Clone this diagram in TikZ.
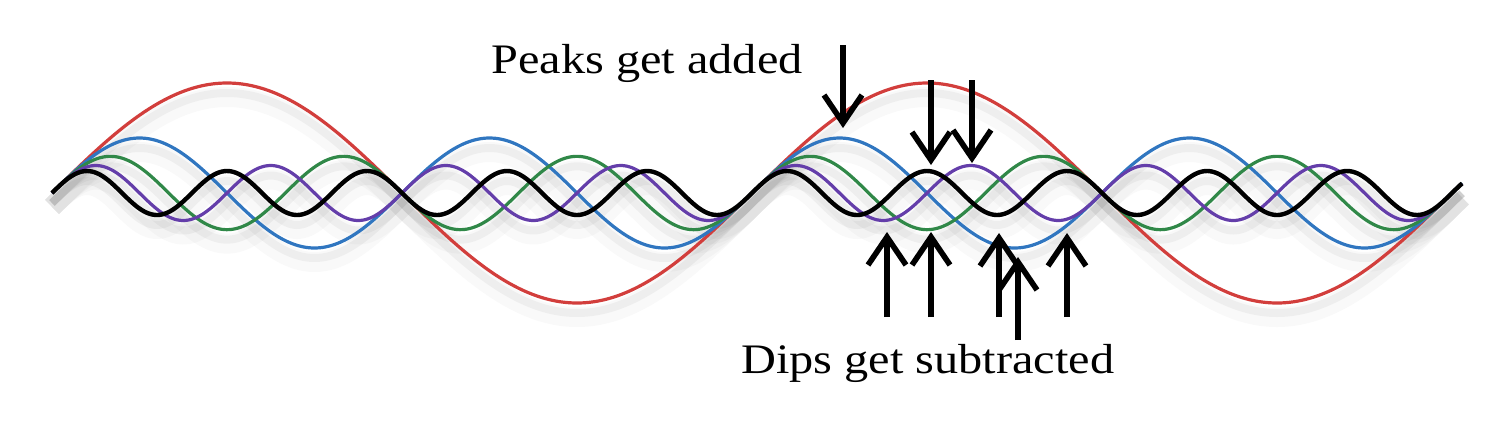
\documentclass[tikz,border=0pt]{standalone}
\usepackage{fontspec}
\setmainfont[FakeStretch=1.15]{Liberation Serif}
\usetikzlibrary{arrows.meta}

\definecolor{wavered}{RGB}{210,62,60}
\definecolor{waveblue}{RGB}{48,118,192}
\definecolor{wavegreen}{RGB}{48,136,72}
\definecolor{wavepurple}{RGB}{100,62,170}

\tikzset{
  wave/.style={line width=1.6pt, line join=round},
  waveshade/.style={line width=4pt, gray, opacity=0.09},
  bigarrow/.style={line width=2.8pt, -{Straight Barb[length=14pt, width=19pt, line width=2.8pt]}},
  lbl/.style={anchor=base west, inner sep=0pt, font=\fontsize{21}{26}\selectfont}
}

\begin{document}
\begin{tikzpicture}[x=0.5pt, y=0.5pt]
    \useasboundingbox (0,-243) rectangle (1504,193);

    % soft shadow under the waves
    \foreach \k in {1,...,5}{
        \draw[waveshade, yshift=-5pt] plot[smooth, domain=52:1462, samples=260]
            (\x, {110/\k*sin(0.5142857*\k*(\x-52))});
        \draw[waveshade, line width=10pt, opacity=0.05, yshift=-7pt] plot[smooth, domain=52:1462, samples=260]
            (\x, {110/\k*sin(0.5142857*\k*(\x-52))});
    }

    % the harmonics, black on top
    \foreach \k/\col/\lw in {1/wavered/1.6pt, 2/waveblue/1.6pt, 3/wavegreen/1.6pt, 4/wavepurple/1.6pt, 5/black/2.2pt}{
        \draw[wave, \col, line width=\lw] plot[smooth, domain=52:1462, samples=300]
            (\x, {110/\k*sin(0.5142857*\k*(\x-52))});
    }

    % labels
    \node[lbl] (peaks) at (491,120) {Peaks get added};
    \node[lbl] (dips) at (741,-180) {Dips get subtracted};

    % arrows at the peaks
    \foreach \x/\a/\b [count=\i] in {843/148/65, 931/113/28, 972/113/30}{
        \coordinate (pka\i) at (\x,\a);
        \coordinate (pkb\i) at (\x,\b);
        \draw[bigarrow] (pka\i) -- (pkb\i);
    }

    % arrows at the dips
    \foreach \x/\a/\b [count=\i] in {887/-124/-39, 931/-124/-39, 999/-124/-40, 1018/-147/-64, 1067/-124/-40}{
        \coordinate (dpa\i) at (\x,\a);
        \coordinate (dpb\i) at (\x,\b);
        \draw[bigarrow] (dpa\i) -- (dpb\i);
    }
\end{tikzpicture}
\end{document}
